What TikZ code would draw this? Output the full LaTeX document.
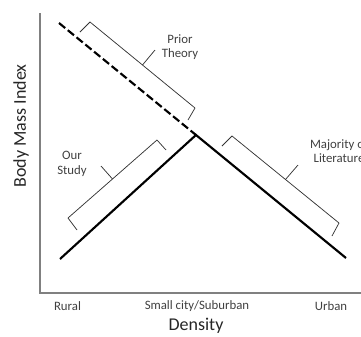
\documentclass[tikz,border=0pt]{standalone}
\usepackage{fontspec}
\setmainfont{Carlito}
\usepackage{tikz}

\begin{document}
\begin{tikzpicture}[x=0.75pt,y=-0.75pt,
                    label node/.style={align=center,font=\fontsize{9.6}{11}\selectfont,text=black!75,inner sep=0pt},
                    axis title/.style={font=\fontsize{13.5}{15}\selectfont,text=black!85,inner sep=0pt},
                    axis line/.style={draw=black!50,line width=1pt},
                    trend/.style={line width=1.6pt},
                    bracket/.style={draw=black!80,line width=0.55pt,line join=round}]

       \useasboundingbox (0,0) rectangle (361,336);

       % axes
       \coordinate (top) at (40,13);
       \coordinate (origin) at (40,293);
       \coordinate (right) at (361,293);
       \draw[axis line] (top) -- (origin) -- (right);

       % curves
       \coordinate (dashstart) at (59,23);
       \coordinate (peak) at (196,135);
       \coordinate (rural) at (60,259);
       \coordinate (urban) at (346,258);
       \draw[trend,dash pattern=on 6pt off 2.5pt] (dashstart) -- (peak);
       \draw[trend] (rural) -- (peak) -- (urban);

       % brackets
       \draw[bracket] (80,32) -- (90,22) -- (142.5,65) -- (195,108) -- (188,120);
       \draw[bracket] (142.5,65) -- (155,50);
       \draw[bracket] (77,230) -- (68,218) -- (112.5,179) -- (157,140) -- (166,150);
       \draw[bracket] (112.5,179) -- (101,166);
       \draw[bracket] (222,146) -- (232,136) -- (285.5,179.5) -- (339,223) -- (332,236);
       \draw[bracket] (285.5,179.5) -- (298,165);

       % labels
       \node[label node] (prior) at (180,47) {Prior\\Theory};
       \node[label node] (study) at (72,164) {Our\\Study};
       \node[label node] (majority) at (339,151) {Majority of\\Literature};

       \node[label node] (ruraltick) at (67.5,306) {Rural};
       \node[label node] (smalltick) at (197,306) {Small city/Suburban};
       \node[label node] (urbantick) at (331,306) {Urban};

       \node[axis title] (xtitle) at (196,326) {Density};
       \node[axis title,rotate=90] (ytitle) at (21,126) {Body Mass Index};

    \end{tikzpicture}
\end{document}
